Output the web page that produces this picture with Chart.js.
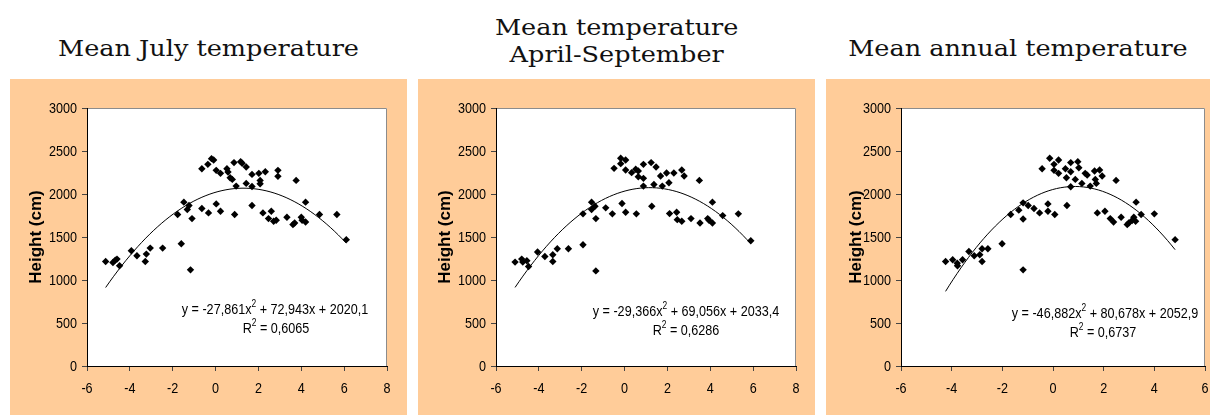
<!DOCTYPE html>
<html>
<head>
<meta charset="utf-8">
<script src="https://cdn.jsdelivr.net/npm/chart.js@4.4.0/dist/chart.umd.min.js"></script>
<style>
    body {
        margin: 0;
        width: 1210px;
        height: 415px;
        position: relative;
        overflow: hidden;
        background: #fff;
    }
    .titre {
        position: absolute;
        font-family: 'DejaVu Serif', serif;
        font-size: 23px;
        line-height: 27px;
        color: #111;
        text-align: center;
        white-space: nowrap;
    }
    .titre span {
        display: inline-block;
        transform: scaleX(1.11);
    }
    .panneau {
        position: absolute;
        top: 79px;
        height: 336px;
        background: #ffcc99;
    }
    canvas { display: block; }
</style>
</head>
<body>

<div class="titre" style="left:10px; width:397px; top:35px;"><span>Mean July temperature</span></div>
<div class="titre" style="left:418px; width:397px; top:14px;"><span>Mean temperature<br>April-September</span></div>
<div class="titre" style="left:826px; width:384px; top:35px;"><span>Mean annual temperature</span></div>

<div class="panneau" style="left:10px; width:397px;"><canvas id="graphJuillet" width="397" height="336"></canvas></div>
<div class="panneau" style="left:418px; width:397px;"><canvas id="graphAvrSep" width="397" height="336"></canvas></div>
<div class="panneau" style="left:826px; width:384px;"><canvas id="graphAnnuel" width="384" height="336"></canvas></div>

<script>
// Température moyenne de juillet (°C) et hauteur (cm)
const julyTemp = [-5.13, -4.79, -4.68, -4.6, -4.48, -3.93, -3.67, -3.28, -3.23, -3.05,
    -2.47, -1.77, -1.6, -1.48, -1.32, -1.24, -1.17, -1.1, -0.64, -0.64,
    -0.36, -0.33, -0.19, -0.09, 0.03, 0.03, 0.23, 0.23, 0.53, 0.58,
    0.68, 0.78, 0.86, 0.89, 0.96, 1.17, 1.24, 1.43, 1.43, 1.7,
    1.7, 1.7, 2.02, 2.08, 2.08, 2.21, 2.32, 2.47, 2.6, 2.71,
    2.83, 2.91, 2.91, 3.33, 3.61, 3.69, 3.76, 4.0, 4.04, 4.2,
    4.2, 4.85, 5.66, 6.1];
const julyHeight = [1215, 1204, 1231, 1243, 1165, 1340, 1282, 1215, 1301, 1371,
    1371, 1761, 1422, 1905, 1819, 1866, 1118, 1714, 2294, 1831,
    2345, 1780, 2411, 2396, 2275, 1885, 2240, 1800, 2294, 2255,
    2189, 2170, 2365, 1761, 2092, 2376, 2357, 2314, 2123, 2228,
    2088, 1866, 2240, 2158, 2119, 1780, 2259, 1714, 1800, 1683,
    1695, 2275, 2205, 1730, 1644, 1663, 2158, 1730, 1695, 1905,
    1675, 1761, 1761, 1469];
const julyFit = [-27.861, 72.943, 2020.1];
const julyR2 = 0.6065;

// Température moyenne avril-septembre
const aprSepTemp = [-5.11, -4.8, -4.75, -4.56, -4.48, -4.06, -3.72, -3.35, -3.35, -3.14,
    -2.62, -1.94, -1.94, -1.54, -1.54, -1.38, -1.34, -1.34, -0.88, -0.57,
    -0.49, -0.18, -0.18, -0.12, 0.05, 0.05, 0.05, 0.33, 0.52, 0.55,
    0.64, 0.64, 0.88, 0.88, 0.88, 1.24, 1.27, 1.37, 1.47, 1.68,
    1.76, 1.96, 2.07, 2.1, 2.3, 2.43, 2.46, 2.67, 2.67, 2.78,
    3.1, 3.49, 3.52, 3.88, 3.94, 4.1, 4.1, 4.58, 5.31, 5.89];
const aprSepHeight = [1208, 1243, 1208, 1223, 1157, 1325, 1274, 1293, 1215, 1364,
    1364, 1769, 1410, 1905, 1819, 1858, 1714, 1106, 1839, 1769,
    2298, 2353, 2415, 1889, 2396, 2279, 1788, 2248, 2287, 1769,
    2267, 2201, 2345, 2182, 2092, 2365, 1858, 2111, 2314, 2209,
    2092, 2244, 2131, 1772, 2244, 1788, 1702, 2279, 1683, 2209,
    1714, 2158, 1663, 1714, 1695, 1905, 1663, 1749, 1769, 1457];
const aprSepFit = [-29.366, 69.056, 2033.4];
const aprSepR2 = 0.6286;

// Température moyenne annuelle
const annualTemp = [-4.24, -3.96, -3.78, -3.77, -3.57, -3.32, -3.11, -2.89, -2.8, -2.8,
    -2.57, -2.01, -1.67, -1.35, -1.18, -1.18, -1.18, -0.98, -0.75, -0.53,
    -0.43, -0.2, -0.2, -0.13, 0.04, 0.04, 0.07, 0.22, 0.22, 0.49,
    0.53, 0.55, 0.7, 0.7, 0.7, 0.88, 0.98, 1.02, 1.14, 1.27,
    1.35, 1.47, 1.64, 1.67, 1.71, 1.75, 1.84, 1.94, 2.05, 2.26,
    2.39, 2.49, 2.69, 2.93, 2.99, 3.12, 3.19, 3.26, 3.28, 3.48,
    4.0, 4.82];
const annualHeight = [1215, 1235, 1196, 1165, 1235, 1332, 1282, 1293, 1364, 1215,
    1364, 1422, 1761, 1812, 1897, 1710, 1118, 1866, 1831, 1780,
    2294, 1885, 1800, 2415, 2345, 2275, 1761, 2396, 2240, 2294,
    2189, 1866, 2365, 2259, 2084, 2170, 2376, 2306, 2123, 2240,
    2220, 2092, 2267, 2170, 2123, 1780, 2279, 2209, 1800, 1714,
    1675, 2158, 1730, 1644, 1663, 1691, 1730, 1683, 1905, 1761,
    1769, 1469];
const annualFit = [-46.882, 80.678, 2052.9];
const annualR2 = 0.6737;

// Graduations des axes
const yTicks = [0, 500, 1000, 1500, 2000, 2500, 3000];
const xTicksWide = [-6, -4, -2, 0, 2, 4, 6, 8];
const xTicksNarrow = [-6, -4, -2, 0, 2, 4, 6];

const policeAxe = "'Liberation Sans', Arial, sans-serif";
const etroit = 0.84; // compression horizontale du texte (police étroite)

// Courbe de tendance polynomiale tracée à partir des coefficients affichés
function courbeTendance(xs, coef) {
    const debut = Math.min(...xs);
    const fin = Math.max(...xs);
    const pts = [];
    const n = 60;
    for (let i = 0; i <= n; i++) {
        const x = debut + (fin - debut) * i / n;
        pts.push({ x: x, y: coef[0] * x * x + coef[1] * x + coef[2] });
    }
    return pts;
}

function virgule(v, dec) {
    return v.toFixed(dec).replace('.', ',');
}

// Fond blanc de la zone de tracé + bord gris en haut et à droite
const fondZone = {
    id: 'fondZone',
    beforeDraw(chart) {
        const { ctx, chartArea: a } = chart;
        ctx.save();
        ctx.fillStyle = '#fff';
        ctx.fillRect(a.left, a.top, a.right - a.left, a.bottom - a.top);
        ctx.strokeStyle = '#8c8c8c';
        ctx.lineWidth = 1;
        ctx.beginPath();
        ctx.moveTo(a.left, a.top + 0.5);
        ctx.lineTo(a.right - 0.5, a.top + 0.5);
        ctx.lineTo(a.right - 0.5, a.bottom);
        ctx.stroke();
        ctx.restore();
    }
};

// Texte étroit : on compresse le contexte en largeur autour du point d'ancrage
function texteEtroit(ctx, txt, x, y, align) {
    ctx.save();
    ctx.translate(x, y);
    ctx.scale(etroit, 1);
    ctx.textAlign = align;
    ctx.fillText(txt, 0, 0);
    ctx.restore();
}

// Étiquettes des graduations, placées avec les échelles du graphique
const etiquettes = {
    id: 'etiquettes',
    afterDraw(chart) {
        const { ctx, chartArea: a, scales } = chart;
        ctx.save();
        ctx.fillStyle = '#000';
        ctx.font = '15px ' + policeAxe;
        ctx.textBaseline = 'middle';
        scales.y.ticks.forEach(t => {
            texteEtroit(ctx, String(t.value), a.left - 10, scales.y.getPixelForValue(t.value) + 0.5, 'right');
        });
        scales.x.ticks.forEach(t => {
            texteEtroit(ctx, String(t.value), scales.x.getPixelForValue(t.value), a.bottom + 23, 'center');
        });
        ctx.restore();
    }
};

// Écrit un texte étroit avec exposants : morceaux [texte, estExposant]
function ecrireAvecExposant(ctx, morceaux, cx, y) {
    const normal = '15px ' + policeAxe;
    const petit = '10px ' + policeAxe;
    let total = 0;
    morceaux.forEach(m => {
        ctx.font = m[1] ? petit : normal;
        total += ctx.measureText(m[0]).width;
    });
    ctx.save();
    ctx.translate(cx, y);
    ctx.scale(etroit, 1);
    let x = -total / 2;
    morceaux.forEach(m => {
        ctx.font = m[1] ? petit : normal;
        ctx.fillText(m[0], x, m[1] ? -6 : 0);
        x += ctx.measureText(m[0]).width;
    });
    ctx.restore();
}

const equation = {
    id: 'equation',
    afterDatasetsDraw(chart, args, opts) {
        const ctx = chart.ctx;
        const c = opts.coef;
        ctx.save();
        ctx.fillStyle = '#000';
        ctx.textAlign = 'left';
        ctx.textBaseline = 'middle';
        ecrireAvecExposant(ctx, [
            ['y = ' + virgule(c[0], 3) + 'x', false],
            ['2', true],
            [' + ' + virgule(c[1], 3) + 'x + ' + virgule(c[2], 1), false]
        ], opts.x, opts.y1);
        ecrireAvecExposant(ctx, [
            ['R', false],
            ['2', true],
            [' = ' + virgule(opts.r2, 4), false]
        ], opts.x2, opts.y2);
        ctx.restore();
    }
};

function creerGraphique(id, temp, hauteur, coef, r2, xTicks, mise) {
    const ctx = document.getElementById(id).getContext('2d');
    const points = temp.map((t, i) => ({ x: t, y: hauteur[i] }));

    return new Chart(ctx, {
        type: 'scatter',
        data: {
            datasets: [{
                data: points,
                pointStyle: 'rectRot',
                pointRadius: 3.7,
                backgroundColor: '#000',
                borderWidth: 0,
                order: 1
            }, {
                type: 'line',
                data: courbeTendance(temp, coef),
                borderColor: '#000',
                borderWidth: 1,
                pointRadius: 0,
                tension: 0,
                fill: false,
                order: 2
            }]
        },
        options: {
            responsive: false,
            animation: false,
            events: [],
            layout: {
                padding: { top: 29, right: mise.droite, left: 0, bottom: 0 }
            },
            scales: {
                x: {
                    type: 'linear',
                    min: xTicks[0],
                    max: xTicks[xTicks.length - 1],
                    afterFit: s => { s.height = 49; },
                    afterBuildTicks: s => { s.ticks = xTicks.map(v => ({ value: v })); },
                    border: { display: true, color: '#000', width: 1 },
                    grid: { drawOnChartArea: false, drawTicks: true, tickLength: 5, color: '#444' },
                    ticks: { display: false }
                },
                y: {
                    min: 0,
                    max: 3000,
                    afterFit: s => { s.width = mise.gauche; },
                    afterBuildTicks: s => { s.ticks = yTicks.map(v => ({ value: v })); },
                    border: { display: true, color: '#000', width: 1 },
                    grid: { drawOnChartArea: false, drawTicks: true, tickLength: 5, color: '#444' },
                    ticks: { display: false },
                    title: {
                        display: true,
                        text: 'Height (cm)',
                        color: '#000',
                        font: { family: policeAxe, size: 17, weight: 'bold' },
                        padding: { top: mise.titre, bottom: 0 }
                    }
                }
            },
            plugins: {
                legend: { display: false },
                tooltip: { enabled: false },
                equation: {
                    coef: coef,
                    r2: r2,
                    x: mise.eqX,
                    y1: mise.eqY,
                    x2: mise.r2X,
                    y2: mise.eqY + 19
                }
            }
        },
        plugins: [fondZone, etiquettes, equation]
    });
}

window.onload = function() {
    creerGraphique('graphJuillet', julyTemp, julyHeight, julyFit, julyR2, xTicksWide,
        { gauche: 77, droite: 20, titre: 16, eqX: 265, eqY: 231, r2X: 266 });
    creerGraphique('graphAvrSep', aprSepTemp, aprSepHeight, aprSepFit, aprSepR2, xTicksWide,
        { gauche: 78, droite: 19, titre: 17, eqX: 268, eqY: 233, r2X: 268 });
    creerGraphique('graphAnnuel', annualTemp, annualHeight, annualFit, annualR2, xTicksNarrow,
        { gauche: 75, droite: 5, titre: 20, eqX: 279, eqY: 235, r2X: 277 });
};
</script>
</body>
</html>
